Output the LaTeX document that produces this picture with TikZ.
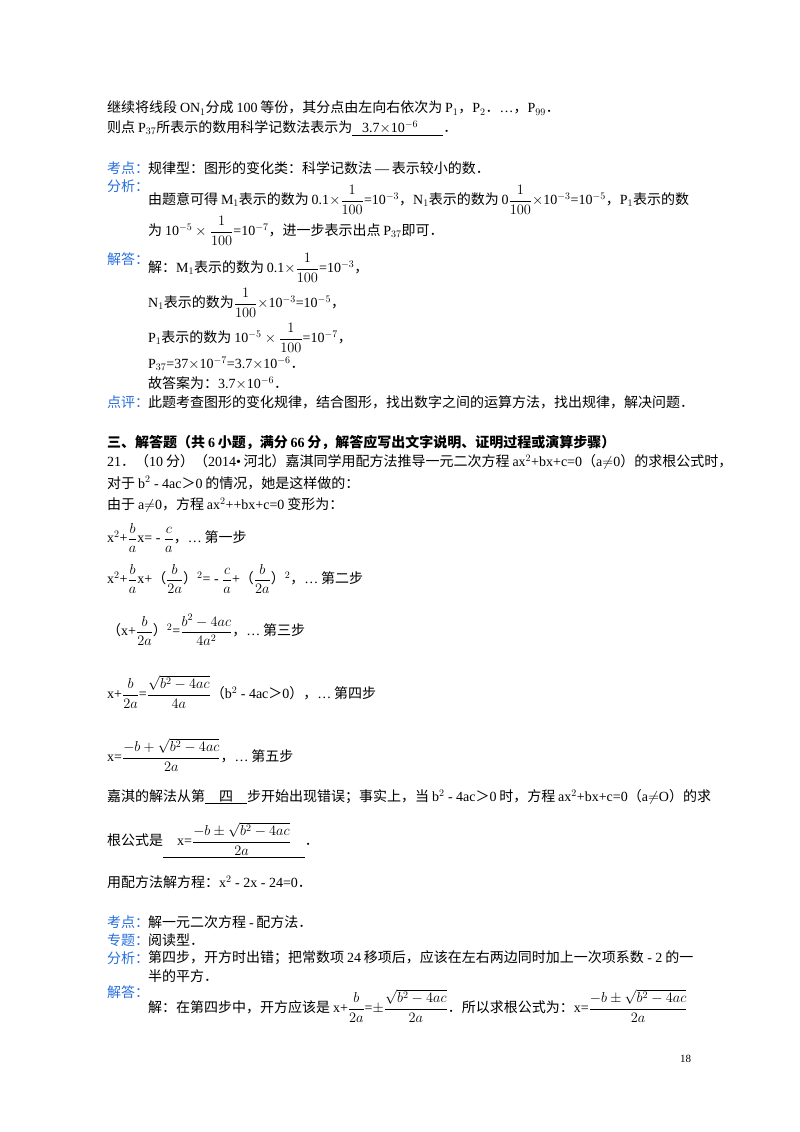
\documentclass[tikz,border=0pt]{standalone}
\usepackage{fontspec}
\setmainfont{Liberation Serif}
\newfontfamily\cjk{Noto Sans CJK SC}
\XeTeXinterchartokenstate=1
\newXeTeXintercharclass\cjkc
\newXeTeXintercharclass\cjkp
\count255="3000 \loop \XeTeXcharclass\count255=\cjkp \advance\count255 1 \ifnum\count255<"3040 \repeat
\count255="4E00 \loop \XeTeXcharclass\count255=\cjkc \advance\count255 1 \ifnum\count255<"A000 \repeat
\count255="FF00 \loop \XeTeXcharclass\count255=\cjkp \advance\count255 1 \ifnum\count255<"FFF0 \repeat
\XeTeXinterchartoks 0 \cjkc = {\hskip0.2em\begingroup\cjk}
\XeTeXinterchartoks 4095 \cjkc = {\begingroup\cjk}
\XeTeXinterchartoks \cjkc 0 = {\endgroup\hskip0.2em}
\XeTeXinterchartoks \cjkc 4095 = {\endgroup}
\XeTeXinterchartoks 0 \cjkp = {\begingroup\cjk}
\XeTeXinterchartoks 4095 \cjkp = {\begingroup\cjk}
\XeTeXinterchartoks \cjkp 0 = {\endgroup}
\XeTeXinterchartoks \cjkp 4095 = {\endgroup}
\definecolor{lblue}{RGB}{40,110,220}
\tikzset{txt/.style={anchor=west,inner sep=0pt,font=\fontsize{14}{16}\selectfont},
lbl/.style={txt,text=lblue}}
\begin{document}
\begin{tikzpicture}[x=1pt,y=-1pt]
\useasboundingbox (0,0) rectangle (800,1132);
\node[txt] (l1) at (107,108) {继续将线段ON$_1$分成100等份，其分点由左向右依次为P$_1$，P$_2$．…，P$_{99}$．};
\node[txt] (l2) at (107,128) {则点P$_{37}$所表示的数用科学记数法表示为\underline{\hspace{0.7em}3.7$\times$10$^{-6}$\hspace{1.8em}}．};
\node[lbl] (k1) at (107,168) {考点：};
\node[txt] (k1t) at (148,168) {规律型：图形的变化类：科学记数法—表示较小的数．};
\node[lbl] (f1) at (107,186) {分析：};
\node[txt] (f1a) at (148,200) {由题意可得M$_1$表示的数为0.1$\times\displaystyle\frac{1}{100}$=10$^{-3}$，N$_1$表示的数为0$\displaystyle\frac{1}{100}\times$10$^{-3}$=10$^{-5}$，P$_1$表示的数};
\node[txt] (f1b) at (148,231) {为10$^{-5}\times\displaystyle\frac{1}{100}$=10$^{-7}$，进一步表示出点P$_{37}$即可．};
\node[lbl] (j1) at (107,259) {解答：};
\node[txt] (j1a) at (148,268) {解：M$_1$表示的数为0.1$\times\displaystyle\frac{1}{100}$=10$^{-3}$，};
\node[txt] (j1b) at (148,303) {N$_1$表示的数为$\displaystyle\frac{1}{100}\times$10$^{-3}$=10$^{-5}$，};
\node[txt] (j1c) at (148,338) {P$_1$表示的数为10$^{-5}\times\displaystyle\frac{1}{100}$=10$^{-7}$，};
\node[txt] (j1d) at (148,364) {P$_{37}$=37$\times$10$^{-7}$=3.7$\times$10$^{-6}$．};
\node[txt] (j1e) at (148,383) {故答案为：3.7$\times$10$^{-6}$．};
\node[lbl] (d1) at (107,402) {点评：};
\node[txt] (d1t) at (148,402) {此题考查图形的变化规律，结合图形，找出数字之间的运算方法，找出规律，解决问题．};
\node[txt,font=\fontsize{14}{16}\selectfont\bfseries] (h3) at (107,442) {三、解答题（共6小题，满分66分，解答应写出文字说明、证明过程或演算步骤）};
\node[txt] (q1) at (107,462) {21．（10分）（2014•河北）嘉淇同学用配方法推导一元二次方程ax$^2$+bx+c=0（a$\neq$0）的求根公式时，};
\node[txt] (q2) at (107,483) {对于b$^2$ - 4ac＞0的情况，她是这样做的：};
\node[txt] (q3) at (107,505) {由于a$\neq$0，方程ax$^2$++bx+c=0变形为：};
\node[txt] (s1) at (107,538) {x$^2$+$\displaystyle\frac{b}{a}$x= - $\displaystyle\frac{c}{a}$，…第一步};
\node[txt] (s2) at (107,579) {x$^2$+$\displaystyle\frac{b}{a}$x+（$\displaystyle\frac{b}{2a}$）$^2$= - $\displaystyle\frac{c}{a}$+（$\displaystyle\frac{b}{2a}$）$^2$，…第二步};
\node[txt] (s3) at (107,630) {（x+$\displaystyle\frac{b}{2a}$）$^2$=$\displaystyle\frac{b^2-4ac}{4a^2}$，…第三步};
\node[txt] (s4) at (107,692) {x+$\displaystyle\frac{b}{2a}$=$\displaystyle\frac{\sqrt{b^2-4ac}}{4a}$（b$^2$ - 4ac＞0），…第四步};
\node[txt] (s5) at (107,755) {x=$\displaystyle\frac{-b+\sqrt{b^2-4ac}}{2a}$，…第五步};
\node[txt] (r1) at (107,797) {嘉淇的解法从第\underline{\hspace{1em}四\hspace{1em}}步开始出现错误；事实上，当b$^2$ - 4ac＞0时，方程ax$^2$+bx+c=0（a$\neq$O）的求};
\node[txt] (r2) at (107,840) {根公式是\underline{\hspace{1em}x=$\displaystyle\frac{-b\pm\sqrt{b^2-4ac}}{2a}$\hspace{1em}}．};
\node[txt] (r3) at (107,882) {用配方法解方程：x$^2$ - 2x - 24=0．};
\node[lbl] (k2) at (107,922) {考点：};
\node[txt] (k2t) at (148,922) {解一元二次方程-配方法．};
\node[lbl] (z2) at (107,940) {专题：};
\node[txt] (z2t) at (148,940) {阅读型．};
\node[lbl] (f2) at (107,958) {分析：};
\node[txt] (f2a) at (148,958) {第四步，开方时出错；把常数项24移项后，应该在左右两边同时加上一次项系数 - 2的一};
\node[txt] (f2b) at (148,976) {半的平方．};
\node[lbl] (j2) at (107,992) {解答：};
\node[txt] (j2t) at (148,1006) {解：在第四步中，开方应该是x+$\displaystyle\frac{b}{2a}$=$\pm\displaystyle\frac{\sqrt{b^2-4ac}}{2a}$．所以求根公式为：x=$\displaystyle\frac{-b\pm\sqrt{b^2-4ac}}{2a}$};
\node[txt,font=\fontsize{11}{13}\selectfont] (pg) at (680,1059) {18};
\end{tikzpicture}
\end{document}
